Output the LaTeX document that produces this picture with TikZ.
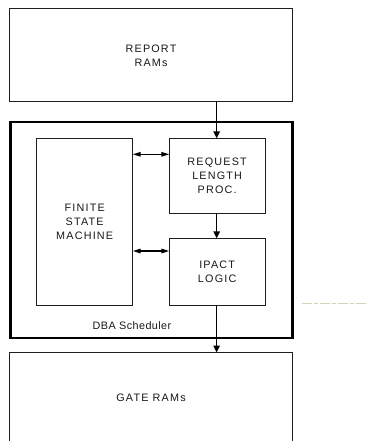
\documentclass[tikz,border=0pt]{standalone}
\usepackage{fontspec}
\setmainfont{Liberation Sans}
\usetikzlibrary{arrows.meta}
\newfontfamily\labfont[LetterSpace=11]{Liberation Sans}
\newfontfamily\capfont[LetterSpace=4]{Liberation Sans}
\definecolor{txt}{RGB}{25,25,25}
\definecolor{edge}{RGB}{30,30,30}
\begin{document}
\begin{tikzpicture}[x=1pt,y=-1pt,
  box/.style={draw=edge,line width=1pt,fill=white,inner sep=0pt,outer sep=0pt,anchor=north west,
    align=center,font=\fontsize{10.8}{14}\labfont,text=txt},
  arr/.style={line width=1.4pt,draw=black,-{Triangle[length=7pt,width=6.5pt]}},
  darr/.style={line width=1.4pt,draw=black,{Triangle[length=8pt,width=4.5pt]}-{Triangle[length=8pt,width=4.5pt]}}]
\useasboundingbox (0,0) rectangle (367,441);
\clip (0,0) rectangle (367,441);
\fill[white] (0,0) rectangle (367,441);
% outer scheduler box
\node[box,line width=2.6pt,draw=black,minimum width=282pt,minimum height=216pt] (dba) at (10.5,122) {};
\node[font=\fontsize{10.8}{12}\capfont,text=txt] (dbalabel) at (132,326) {DBA Scheduler};
% boxes
\node[box,minimum width=283.4pt,minimum height=92.7pt] (report) at (9.3,9) {REPORT\\RAMs};
\node[box,minimum width=96pt,minimum height=166.7pt] (fsm) at (36.7,138.3) {FINITE\\STATE\\MACHINE};
\node[box,minimum width=95.7pt,minimum height=75pt] (req) at (169.3,138.3) {REQUEST\\LENGTH\\PROC.};
\node[box,minimum width=95.7pt,minimum height=66.7pt] (ipact) at (169.3,238.3) {IPACT\\LOGIC};
\node[box,minimum width=283.4pt,minimum height=90pt] (gate) at (9.3,352.5) {GATE RAMs};
% attachment points
\coordinate (reqw) at ([yshift=-16pt]req.north west);
\coordinate (ipw) at ([yshift=-12.7pt]ipact.north west);
% connectors
\draw[arr] ([xshift=-0.5pt]req.north |- report.south) -- ([xshift=-0.5pt]req.north);
\draw[arr] ([xshift=-0.5pt]req.south) -- ([xshift=-0.5pt]ipact.north);
\draw[arr] ([xshift=-0.5pt]ipact.south) -- ([xshift=-0.5pt]ipact.south |- gate.north);
\draw[darr] (fsm.east |- reqw) -- (reqw);
\draw[darr] (fsm.east |- ipw) -- (ipw);
% faint stray line at right
\coordinate (s1) at (302,303.3);
\coordinate (s2) at (367,303.3);
\draw[draw={rgb,255:red,205;green,215;blue,185},line width=0.8pt,dash pattern=on 10pt off 2pt on 4pt off 2pt] (s1) -- (s2);
\end{tikzpicture}
\end{document}
